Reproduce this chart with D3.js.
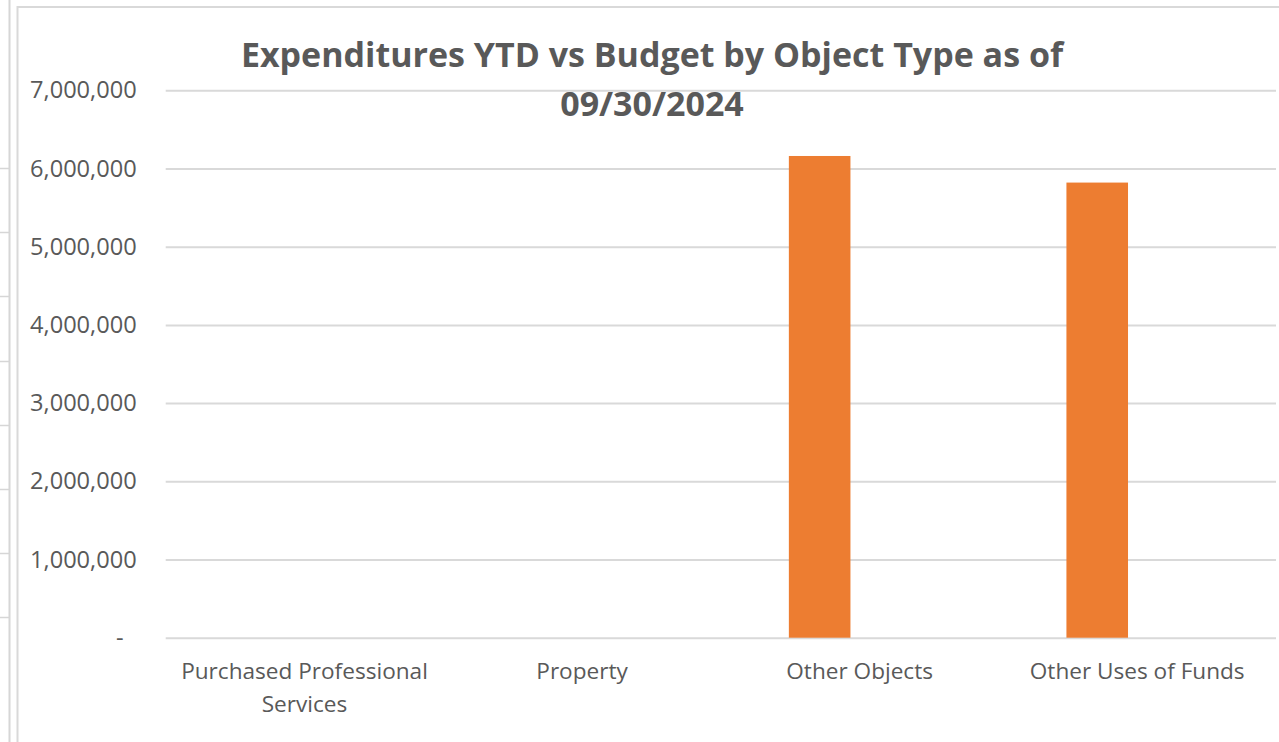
<!DOCTYPE html>
<html>
<head>
<meta charset="utf-8">
<script src="https://cdn.jsdelivr.net/npm/d3@7"></script>
<style>
  body { margin: 0; background: #fff; }
  svg { display: block; }
</style>
</head>
<body>
<svg id="chart"></svg>
<script>
// chart data
const categories = ['Purchased Professional Services', 'Property', 'Other Objects', 'Other Uses of Funds']
const seriesNames = ['Budget', 'Expenditures YTD']
const budget = [0, 0, 6160000, 5820000]
const ytd = [0, 0, 0, 0]
const yTicks = [0, 1000000, 2000000, 3000000, 4000000, 5000000, 6000000, 7000000]
const titleLines = ['Expenditures YTD vs Budget by Object Type as of', '09/30/2024']

const W = 1279, H = 742
const font = '"Open Sans", "Noto Sans", sans-serif'
const textColor = '#595959'
const gridColor = '#d9d9d9'
const colors = {'Budget': '#ED7D31', 'Expenditures YTD': '#4472C4'}

const svg = d3.select('#chart').attr('width', W).attr('height', H)
  .attr('font-family', font)

// spreadsheet bits showing at the left edge
svg.append('line')
  .attr('x1', 9.5).attr('x2', 9.5).attr('y1', 0).attr('y2', H)
  .attr('stroke', '#d6d6d6').attr('stroke-width', 2)
for (let i = 0; i < 8; i++) {
  const yy = Math.round(168 + i * 64.2) + 0.5
  svg.append('line')
    .attr('x1', 0).attr('x2', 9).attr('y1', yy).attr('y2', yy)
    .attr('stroke', '#d6d6d6').attr('stroke-width', 1.5)
}

// chart frame
svg.append('rect')
  .attr('x', 17.5).attr('y', 7).attr('width', 1400).attr('height', 900)
  .attr('fill', '#fff').attr('stroke', gridColor).attr('stroke-width', 2)

// scales
const plot = {left: 165.7, right: 1276, top: 90.3, bottom: 637.7}

const x0 = d3.scaleBand()
  .domain(categories)
  .range([plot.left, plot.right])
  .paddingInner(0.49)
  .paddingOuter(0.245)

const x1 = d3.scaleBand()
  .domain(seriesNames)
  .range([0, x0.bandwidth()])
  .paddingInner(0.23)

const y = d3.scaleLinear()
  .domain([0, 7000000])
  .range([plot.bottom, plot.top])

// gridlines
const grid = svg.append('g')
  .attr('transform', 'translate(' + plot.left + ',0)')
  .call(d3.axisLeft(y).tickValues(yTicks).tickSize(-(plot.right - plot.left)).tickFormat(''))
grid.select('.domain').remove()
grid.selectAll('line').attr('stroke', gridColor).attr('stroke-width', 2)

// y axis labels
const yAxis = svg.append('g')
  .attr('transform', 'translate(' + plot.left + ',0)')
  .call(d3.axisLeft(y).tickValues(yTicks).tickSize(0).tickPadding(29)
    .tickFormat(function(d) { return d === 0 ? '-' : d3.format(',')(d) }))
yAxis.attr('font-family', font).attr('font-size', 23.6)
yAxis.select('.domain').remove()
yAxis.selectAll('text')
  .attr('fill', textColor)
  .attr('dx', function(d) { return d === 0 ? -13 : 0 })

// bars
const rows = categories.map(function(c, i) {
  return {cat: c, values: [{key: 'Budget', value: budget[i]}, {key: 'Expenditures YTD', value: ytd[i]}]}
})

svg.append('g')
  .selectAll('g')
  .data(rows)
  .join('g')
  .attr('transform', function(d) { return 'translate(' + x0(d.cat) + ',0)' })
  .selectAll('rect')
  .data(function(d) { return d.values })
  .join('rect')
  .attr('x', function(d) { return x1(d.key) })
  .attr('width', x1.bandwidth())
  .attr('y', function(d) { return y(d.value) })
  .attr('height', function(d) { return y(0) - y(d.value) })
  .attr('fill', function(d) { return colors[d.key] })

// x axis labels
const xAxis = svg.append('g')
  .attr('transform', 'translate(0,' + plot.bottom + ')')
  .call(d3.axisBottom(x0).tickSize(0).tickPadding(25))
xAxis.attr('font-family', font).attr('font-size', 22.6)
xAxis.select('.domain').remove()
xAxis.selectAll('text')
  .attr('fill', textColor)
  .call(wrap, 262)

function wrap(text, width) {
  text.each(function() {
    const t = d3.select(this)
    const words = t.text().split(/\s+/)
    const yy = t.attr('y'), dy = parseFloat(t.attr('dy'))
    let line = [], lineNo = 0
    let tspan = t.text(null).append('tspan').attr('x', 0).attr('y', yy).attr('dy', dy + 'em')
    words.forEach(function(w) {
      line.push(w)
      tspan.text(line.join(' '))
      if (tspan.node().getComputedTextLength() > width && line.length > 1) {
        line.pop()
        tspan.text(line.join(' '))
        line = [w]
        tspan = t.append('tspan').attr('x', 0).attr('y', yy)
          .attr('dy', (++lineNo * 1.47 + dy) + 'em').text(w)
      }
    })
  })
}

// title
const title = svg.append('text')
  .attr('text-anchor', 'middle')
  .attr('fill', textColor)
  .attr('font-size', 34)
  .attr('font-weight', 'bold')
title.selectAll('tspan')
  .data(titleLines)
  .join('tspan')
  .attr('x', 652)
  .attr('y', function(d, i) { return 67 + i * 49 })
  .text(function(d) { return d })
</script>
</body>
</html>
